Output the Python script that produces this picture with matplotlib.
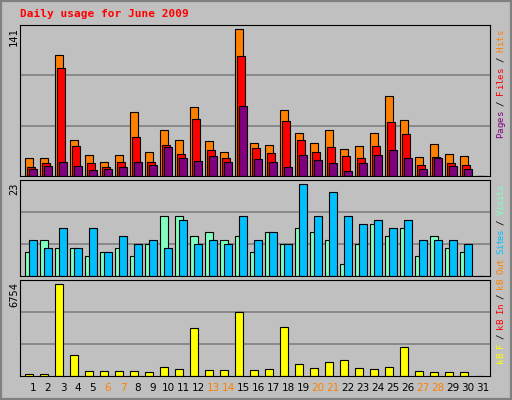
import matplotlib.pyplot as plt
import numpy as np

days = np.arange(1, 32)
hits = [17, 17, 116, 35, 20, 13, 20, 61, 23, 44, 35, 66, 34, 23, 141, 32,
        30, 63, 41, 32, 44, 26, 29, 41, 77, 54, 18, 31, 21, 19, 0]
files = [9, 12, 104, 29, 12, 9, 13, 37, 13, 30, 21, 55, 25, 17, 115, 27,
         22, 53, 35, 23, 28, 19, 17, 29, 52, 40, 11, 18, 12, 11, 0]
pages = [7, 10, 13, 10, 6, 7, 9, 13, 11, 28, 17, 14, 19, 13, 67, 16,
         13, 9, 20, 15, 12, 5, 12, 20, 25, 17, 7, 17, 10, 7, 0]
visits = [6, 9, 7, 7, 5, 6, 7, 5, 8, 15, 15, 10, 11, 9, 10, 6,
          11, 8, 12, 11, 9, 3, 8, 13, 10, 12, 5, 10, 7, 6, 0]
sites = [9, 7, 12, 7, 12, 6, 10, 8, 9, 7, 14, 8, 9, 8, 15, 9,
         11, 8, 23, 15, 21, 15, 13, 14, 12, 14, 9, 9, 9, 8, 0]
kbytes = [173, 173, 6754, 1578, 394, 394, 394, 394, 320, 690, 542, 3500,
          468, 468, 4683, 468, 542, 3574, 912, 616, 1060, 1208, 616, 542,
          690, 2095, 394, 320, 320, 320, 0]
weekends = [6, 7, 13, 14, 20, 21, 27, 28]

W, H = 512, 400
bg = '#C0C0C0'
mono = 'DejaVu Sans Mono'

fig = plt.figure(figsize=(W / 100, H / 100), dpi=100, facecolor=bg)

# bevelled outer frame
fig.patches.append(plt.Rectangle((0, 0), 1, 1, transform=fig.transFigure,
                                 fill=False, edgecolor='#808080', lw=3))


def panel(top, bottom):
    ax = fig.add_axes([20 / W, 1 - bottom / H, 470 / W, (bottom - top) / H])
    ax.set_facecolor(bg)
    ax.set_xlim(1 - 13 / 15, 1 - 13 / 15 + 470 / 15)
    ax.set_xticks([])
    ax.set_yticks([])
    for s in ax.spines.values():
        s.set_color('black')
    return ax


px = 1 / 15.0
bw = 8 * px

ax1 = panel(25, 176)
top1 = max(hits) * 151 / 147
ax1.set_ylim(0, top1)
for g in (1, 2):
    ax1.axhline(top1 * g / 3, color='#808080', lw=1.2, zorder=0)
ax1.bar(days - 8 * px, hits, width=bw, align='edge', color='#FF8000', edgecolor='black', lw=0.8)
ax1.bar(days - 6 * px, files, width=bw, align='edge', color='#FF0000', edgecolor='black', lw=0.8)
ax1.bar(days - 4 * px, pages, width=bw, align='edge', color='#800080', edgecolor='black', lw=0.8)

ax2 = panel(180, 276)
top2 = max(sites) * 96 / 92
ax2.set_ylim(0, top2)
for g in (1, 2):
    ax2.axhline(top2 * g / 3, color='#808080', lw=1.2, zorder=0)
ax2.bar(days - 8 * px, visits, width=bw, align='edge', color='#80FFC0', edgecolor='black', lw=0.8)
ax2.bar(days - 4 * px, sites, width=bw, align='edge', color='#00BFFF', edgecolor='black', lw=0.8)

ax3 = panel(280, 376)
top3 = max(kbytes) * 96 / 92
ax3.set_ylim(0, top3)
for g in (1, 2):
    ax3.axhline(top3 * g / 3, color='#808080', lw=1.2, zorder=0)
ax3.bar(days - 8 * px, kbytes, width=bw, align='edge', color='#FFFF00', edgecolor='black', lw=0.8)

# day labels
for d in days:
    x = (20 + 13 + (d - 1) * 15) / W
    fig.text(x, 1 - 388 / H, str(d), ha='center', va='center', fontsize=7.5,
             color='#FF8000' if d in weekends else 'black')

# title and max values
fig.text(20 / W, 1 - 14 / H, 'Daily usage for June 2009', color='#FF0000',
         fontsize=8, fontweight='bold', family=mono, va='center')
fig.text(14 / W, 1 - 27 / H, str(max(hits)), rotation=90, ha='center', va='top', fontsize=7.5, family=mono)
fig.text(14 / W, 1 - 182 / H, str(max(sites)), rotation=90, ha='center', va='top', fontsize=7.5, family=mono)
fig.text(14 / W, 1 - 282 / H, str(max(kbytes)), rotation=90, ha='center', va='top', fontsize=7.5, family=mono)


def legend(start, parts, cw=5.4):
    # one character at a time so the rotated words butt up cleanly
    y = start - cw / 2
    for txt, col in parts:
        for ch in txt:
            if ch != ' ':
                fig.text(501 / W, 1 - y / H, ch, rotation=90, ha='center', va='center',
                         fontsize=6.6, family=mono, color=col)
            y -= cw


legend(138, [('Pages', '#800080'), (' / ', 'black'), ('Files', '#FF0000'),
             (' / ', 'black'), ('Hits', '#FF8000')])
legend(363, [('kB F', '#FFFF00'), (' / ', 'black'), ('kB In', '#FF0000'),
             (' / ', 'black'), ('kB Out', '#FF8000'), (' ', 'black'),
             ('Sites', '#00BFFF'), (' / ', 'black'), ('Visits', '#80FFC0')], cw=4.95)

fig.savefig('out.png', dpi=100, facecolor=bg)
